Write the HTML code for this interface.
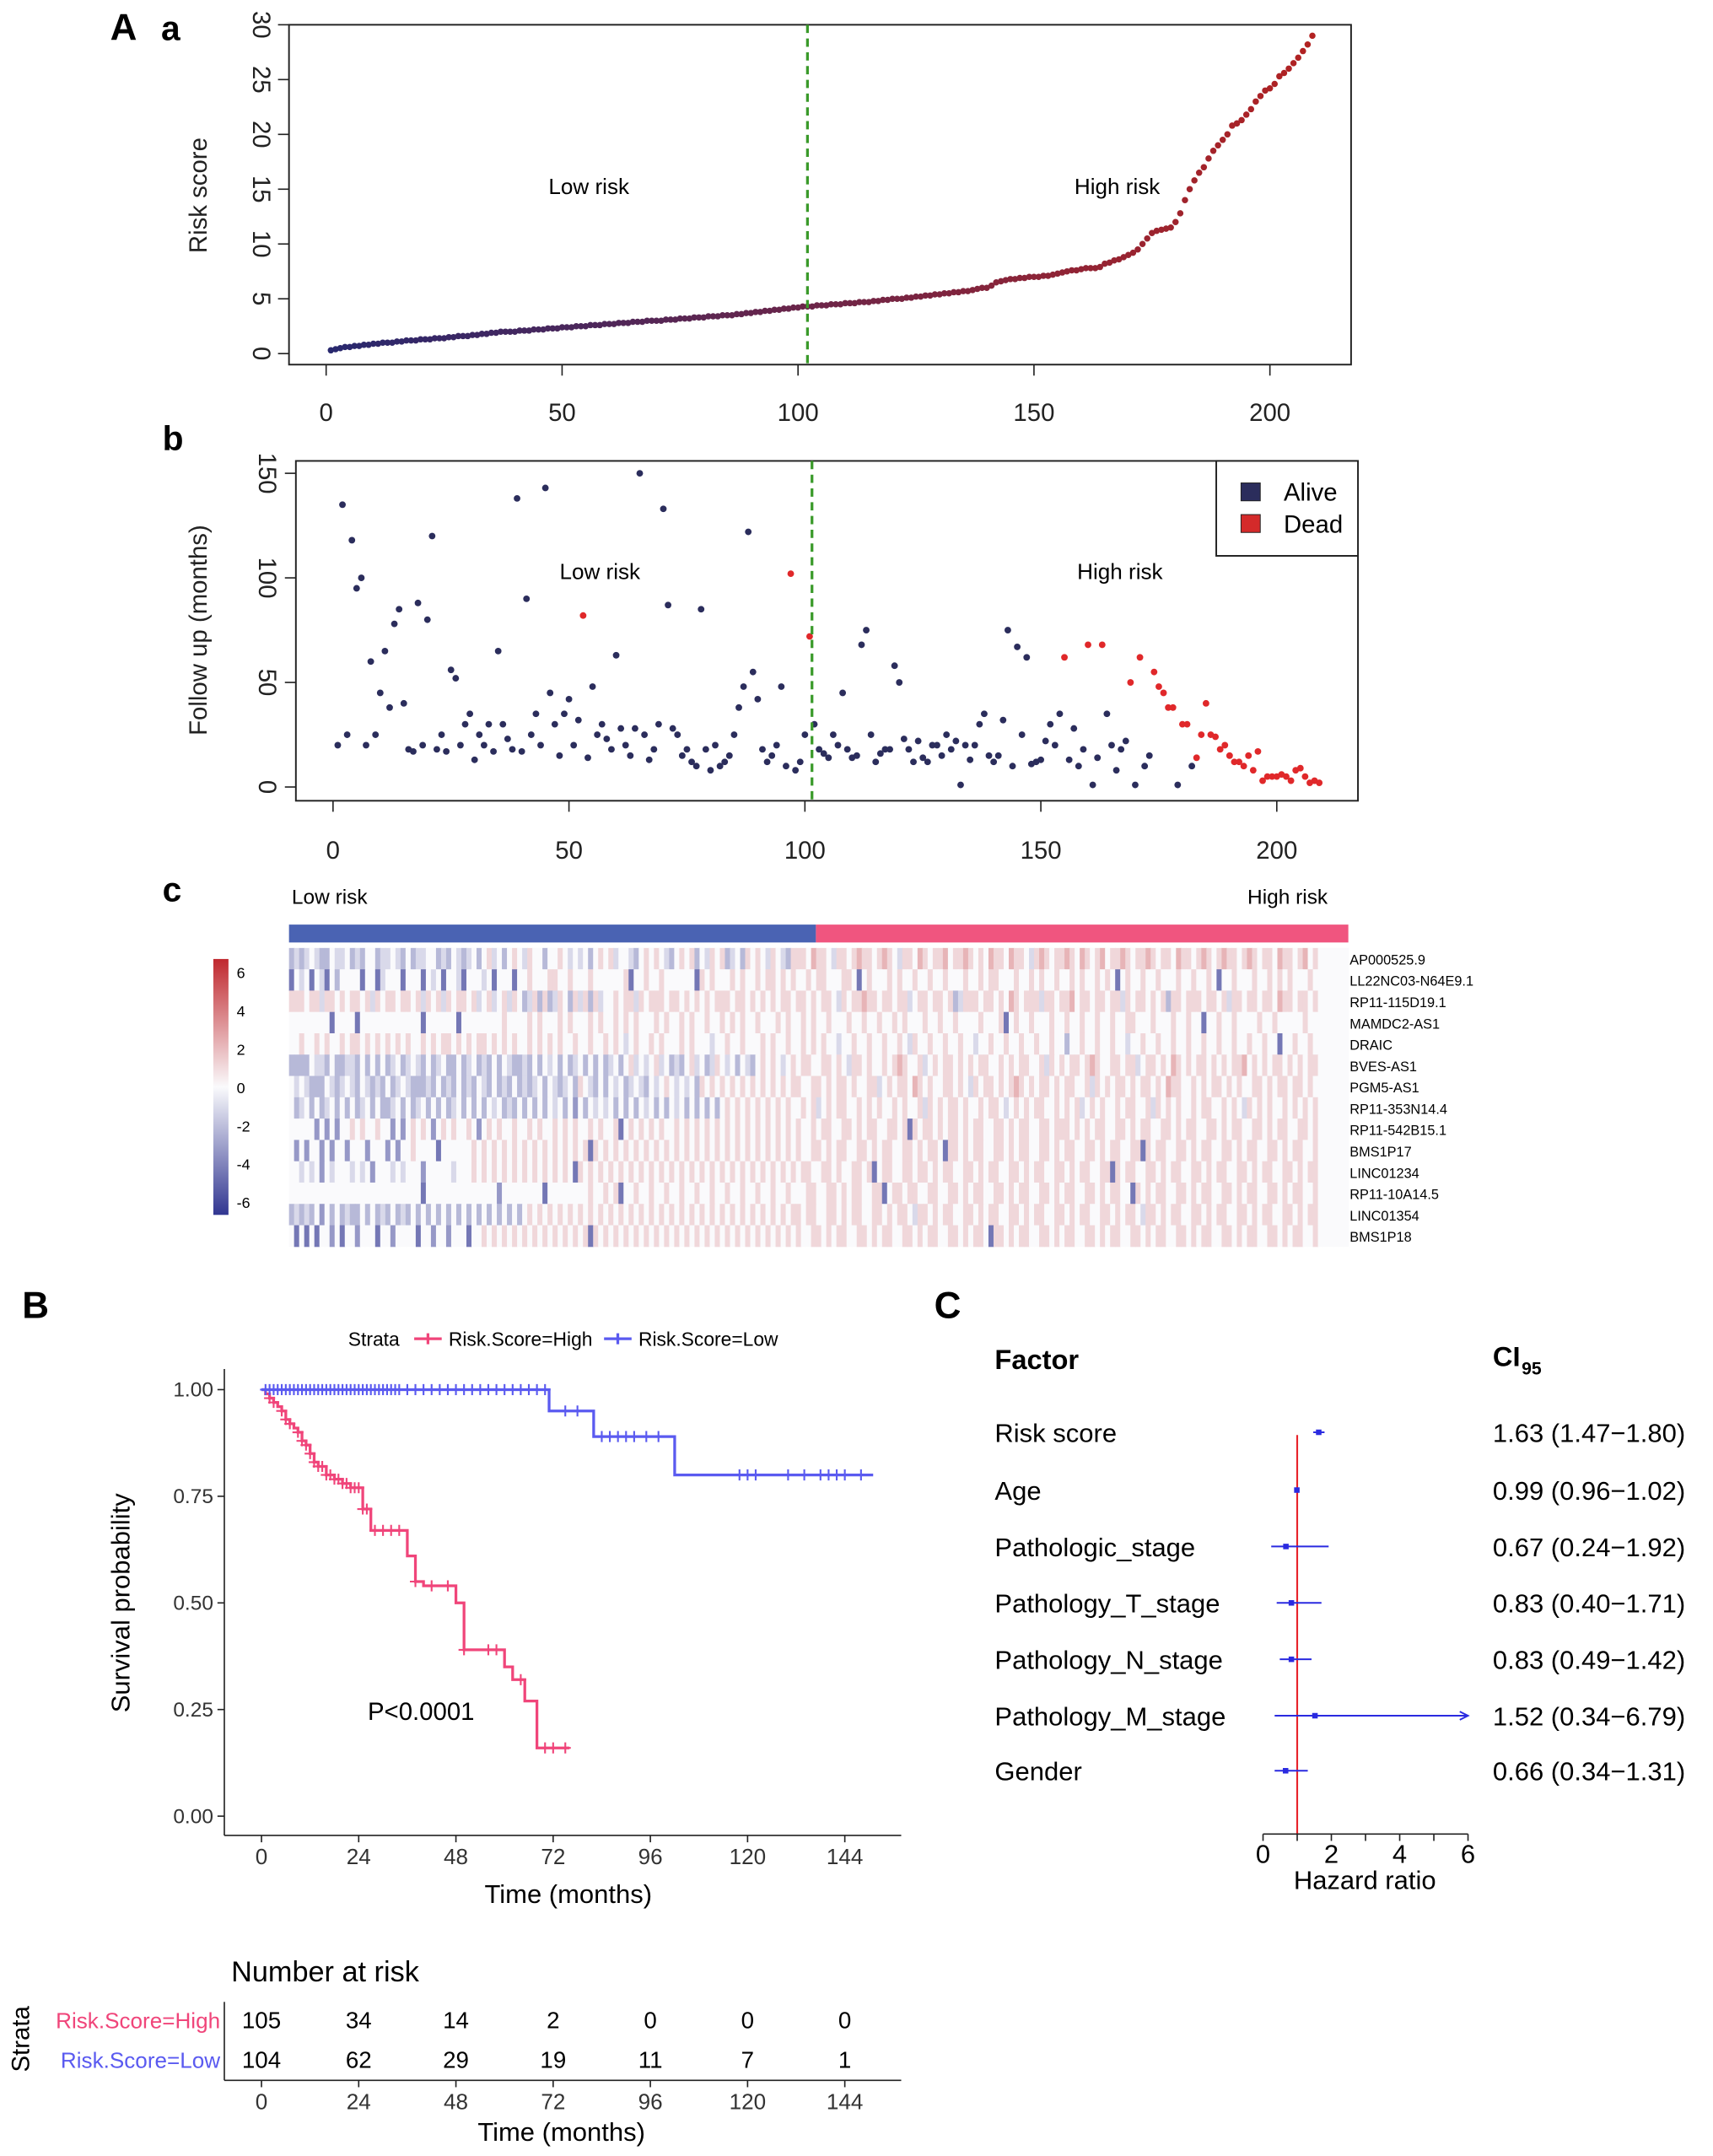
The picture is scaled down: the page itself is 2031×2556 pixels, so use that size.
<!DOCTYPE html>
<html><head><meta charset="utf-8"><style>
html,body{margin:0;padding:0;background:#fff}
svg{display:block;font-family:"Liberation Sans",Arial,sans-serif}
</style></head><body>
<svg id="S" width="2031" height="2556" viewBox="0 0 1245 1567" xmlns="http://www.w3.org/2000/svg">
<rect width="1245" height="1567" fill="#fff"/>
<g id="gA"></g>
<g id="gB"></g>
<g id="gC"></g>
<g id="gK"></g>
<g id="gF"></g>
</svg>
<script>
// ---------- data ----------
const riskScores=[0.3,0.4,0.5,0.6,0.6,0.7,0.7,0.8,0.8,0.9,0.9,1.0,1.0,1.0,1.1,1.1,1.2,1.2,1.2,1.3,1.3,1.3,1.4,1.4,1.4,1.5,1.5,1.6,1.6,1.6,1.7,1.7,1.8,1.8,1.9,1.9,2.0,2.0,2.0,2.0,2.1,2.1,2.1,2.2,2.2,2.2,2.3,2.3,2.3,2.4,2.4,2.4,2.5,2.5,2.5,2.6,2.6,2.6,2.7,2.7,2.7,2.8,2.8,2.8,2.9,2.9,2.9,3.0,3.0,3.0,3.0,3.1,3.1,3.1,3.2,3.2,3.2,3.3,3.3,3.3,3.4,3.4,3.4,3.5,3.5,3.5,3.6,3.6,3.7,3.7,3.8,3.8,3.9,3.9,4.0,4.0,4.1,4.1,4.2,4.2,4.3,4.3,4.3,4.4,4.4,4.4,4.5,4.5,4.5,4.6,4.6,4.6,4.7,4.7,4.7,4.8,4.8,4.9,4.9,5.0,5.0,5.0,5.1,5.1,5.2,5.2,5.3,5.3,5.4,5.4,5.5,5.5,5.6,5.6,5.7,5.7,5.8,5.9,6.0,6.0,6.2,6.5,6.6,6.7,6.8,6.8,6.9,6.9,7.0,7.0,7.0,7.1,7.1,7.2,7.3,7.4,7.5,7.6,7.6,7.7,7.8,7.8,7.8,7.9,8.2,8.3,8.5,8.6,8.8,9.0,9.2,9.5,10.0,10.5,11.0,11.2,11.3,11.4,11.5,12.0,12.8,14.0,15.0,15.8,16.5,17.0,17.8,18.5,19.0,19.5,20.0,20.8,21.0,21.3,21.8,22.3,23.0,23.5,24.0,24.2,24.6,25.3,25.6,26.0,26.5,27.0,27.6,28.2,29.0];
const followUp=[20,135,25,118,95,100,20,60,25,45,65,38,78,85,40,18,17,88,20,80,120,18,25,17,56,52,20,30,35,13,25,20,30,17,65,30,23,18,138,17,90,25,35,20,143,45,30,15,35,42,20,32,82,14,48,25,30,23,18,63,28,20,15,28,150,25,13,18,30,133,87,28,25,15,18,12,10,85,18,8,20,10,12,15,25,38,48,122,55,42,18,12,15,20,48,10,102,8,12,25,72,30,18,16,14,25,20,45,18,14,15,68,75,25,12,16,18,18,58,50,23,18,12,22,14,12,20,20,15,25,18,22,1,20,13,20,30,35,15,12,15,32,75,10,67,25,62,11,12,13,22,30,20,35,62,13,28,10,18,68,1,14,68,35,20,8,18,22,50,1,62,10,15,55,48,45,38,38,1,30,30,10,14,25,40,25,24,18,20,15,12,12,10,15,8,17,3,5,5,5,6,5,3,8,9,5,2,3,2];
const deadIdx=[53,97,101,155,160,163,169,171,174,175,176,177,178,180,181,183,184,185,186,187,188,189,190,191,192,193,194,195,196,197,198,199,200,201,202,203,204,205,206,207,208,209];
const geneNames=["AP000525.9","LL22NC03-N64E9.1","RP11-115D19.1","MAMDC2-AS1","DRAIC","BVES-AS1","PGM5-AS1","RP11-353N14.4","RP11-542B15.1","BMS1P17","LINC01234","RP11-10A14.5","LINC01354","BMS1P18"];
const heatRows=[
"3434543354453435534454353445534354345356453565465535565454535656455435656543565635465634536565465436"+"6657665466567665676546657656675667656576657665467656676576567566765667656657665676567665676566576656756",
"1545154153555515514555155515451554155545155515565556655655565555556155655655555516565556565565665656"+"5565665556651565556565565565565556556566555655656556556565565651565565565556556556515565556556565655565",
"6665664665656656465665665646564656656456456465346363465364636455656646566656656565656665665656565665"+"6656566546566766566566456656656346665665657656664665667566566566465665656366566656656466566566576656656",
"5555555515555155555555555515555551555555556555565655565655565655656565556565565655655656565565556565"+"5656556555655655655656555655655655556555615655655565565565565565566555655565565515565565555655655555655",
"5565565655656656565656565565656656565665656565565656565565565565654565565655565655545565565556565565"+"5656565545565565565565465565565565545565565565565565535565565565545565565565565565565565565565515565565",
"3333544353344353535345345435345335345343535433435354535345353534535645456453435645346545354356565456"+"5665566565466565565676556456566565656655656566556465656656765566566456656576565665656566756565665656566",
"5454333543454354343534543334353435343543534353434535434536543535453454354565454536565656565656565656"+"6556656566565566456566576565566565465665656765656656566556465656656566565766556565665656556656566566565",
"5345353453535345353345353453535345353535453435353535453525354545353535453535453535353565656565656565"+"5656456566556565655656556465656656556566545656566556565645656556566556465656556566556565465656556565656",
"5555525252556565565525256565256565565256565565565655656565565655615656565655656565656565656565656565"+"6556566556656566556656165665656656566556656566556656665656566556656566556656566556656566556656566556656",
"5252552525525552555252556555515555556565656565656565656565616565656565656565656565656565656565656565"+"6556656566556656566556656566516656566556656566556656566556656566556616566556656566556656566556656566556",
"5545452545554545255545455525555545556565656565656565656516565656565656565656565656565656565656565656"+"5665566565566561566556656656566556656566556656566556656566556616566556656566556656566556656566556656566",
"5555555555555555555555555515555555555555525555555515555555565565615565565565565565565565565565565565"+"5566556656566556615665665566556656566556656566556656566556656566551656566556656566556656566556656566556",
"3434352535343353534353435353535353535353535353565656565656565656565656565656565656565656565656565656"+"6566556656566556656566546656566556656566556656566556656566556656566546656566556656566556656566556656566",
"5151515525155255515525555155255255515565656565656565656565616565656565656565656565656565656565656565"+"6556656566556656566556656566556656566516656566556656566556656566556656566556656566556656566556656566556"
];
const kmHighT=[0,1,2,3,4,5,6,7,8,9,10,11,12,13,14,16,18,20,22,25,27,36,38,40,48,50,60,62,65,68,76];
const kmHighS=[1,0.99,0.98,0.97,0.96,0.95,0.93,0.92,0.91,0.90,0.88,0.87,0.85,0.83,0.82,0.80,0.79,0.78,0.77,0.72,0.67,0.61,0.55,0.54,0.50,0.39,0.35,0.32,0.27,0.16,0.16];
const kmHighCens=[2,3,5,6,7,9,10,11,12,13,14,15,16,17,18,19,20,21,22,23,24,25,26,28,30,32,34,38,42,46,50,56,58,64,70,72,75];
const kmLowT=[0,71,82,102,151];
const kmLowS=[1,0.95,0.89,0.80,0.80];
const kmLowCens=[1,2,3,4,5,6,7,8,9,10,11,12,13,14,15,16,17,18,19,20,21,22,23,24,25,26,27,28,29,30,31,32,33,34,36,38,40,42,44,46,48,50,52,54,56,58,60,62,64,66,68,70,75,78,84,86,88,90,92,95,98,118,120,122,130,134,138,140,142,144,148];
const xTicksKM=[0,24,48,72,96,120,144];
const atRiskHigh=[105,34,14,2,0,0,0];
const atRiskLow=[104,62,29,19,11,7,1];
const factors=["Risk score","Age","Pathologic_stage","Pathology_T_stage","Pathology_N_stage","Pathology_M_stage","Gender"];
const hr=[1.63,0.99,0.67,0.83,0.83,1.52,0.66];
const ciLo=[1.47,0.96,0.24,0.40,0.49,0.34,0.34];
const ciHi=[1.80,1.02,1.92,1.71,1.42,6.79,1.31];

// ---------- helpers ----------
const NS="http://www.w3.org/2000/svg";
function mk(par,tag,at,txt){const e=document.createElementNS(NS,tag);for(const k in at)e.setAttribute(k,at[k]);if(txt!==undefined)e.textContent=txt;par.appendChild(e);return e;}
function lerpCol(c1,c2,t){return 'rgb('+c1.map((v,i)=>Math.round(v+(c2[i]-v)*t)).join(',')+')';}
const S=document.getElementById('S');
let e;
e=mk(S,'text',{x:80,y:29,'font-size':27,'font-weight':'bold'},'A');
e=mk(S,'text',{x:117,y:29,'font-size':25,'font-weight':'bold'},'a');
e=mk(S,'text',{x:118,y:327,'font-size':25,'font-weight':'bold'},'b');
e=mk(S,'text',{x:118,y:655,'font-size':25,'font-weight':'bold'},'c');
e=mk(S,'text',{x:16,y:958,'font-size':27,'font-weight':'bold'},'B');
e=mk(S,'text',{x:679,y:958,'font-size':27,'font-weight':'bold'},'C');

// ---------- panel a ----------
(function(){
const g=document.getElementById('gA');
const xs=v=>237+v*(923-237)/200, ys=v=>257-v*(257-18)/30;
e=mk(g,'rect',{x:210,y:18,width:772,height:247,fill:'none',stroke:'#222','stroke-width':1.2});
[0,50,100,150,200].forEach(t=>{mk(g,'line',{x1:xs(t),x2:xs(t),y1:265,y2:273,stroke:'#222'});e=mk(g,'text',{x:xs(t),y:306,'font-size':18,'text-anchor':'middle',fill:'#222'},t);});
[0,5,10,15,20,25,30].forEach(t=>{mk(g,'line',{x1:202,x2:210,y1:ys(t),y2:ys(t),stroke:'#222'});e=mk(g,'text',{x:0,y:0,'font-size':18,'text-anchor':'middle',fill:'#222',transform:`translate(184,${ys(t)}) rotate(90)`},t);});
e=mk(g,'text',{x:0,y:0,'font-size':18,'text-anchor':'middle',fill:'#222',transform:'translate(150,142) rotate(-90)'},'Risk score');
const n=riskScores.length;
riskScores.forEach((v,i)=>{const t=i/(n-1);e=mk(g,'circle',{cx:xs(i+1),cy:ys(v),r:2.3,fill:lerpCol([40,40,110],[178,34,34],t)});});
e=mk(g,'line',{x1:xs(102),x2:xs(102),y1:18,y2:265,stroke:'#3a9a2a','stroke-width':2,'stroke-dasharray':'6,4'});
e=mk(g,'text',{x:428,y:141,'font-size':16,'text-anchor':'middle'},'Low risk');
e=mk(g,'text',{x:812,y:141,'font-size':16,'text-anchor':'middle'},'High risk');
})();

// ---------- panel b ----------
(function(){
const g=document.getElementById('gB');
const xs=v=>242+v*(928-242)/200, ys=v=>572-v*(572-344)/150;
e=mk(g,'rect',{x:215,y:335,width:772,height:247,fill:'none',stroke:'#222','stroke-width':1.2});
[0,50,100,150,200].forEach(t=>{mk(g,'line',{x1:xs(t),x2:xs(t),y1:582,y2:590,stroke:'#222'});e=mk(g,'text',{x:xs(t),y:624,'font-size':18,'text-anchor':'middle',fill:'#222'},t);});
[0,50,100,150].forEach(t=>{mk(g,'line',{x1:207,x2:215,y1:ys(t),y2:ys(t),stroke:'#222'});e=mk(g,'text',{x:0,y:0,'font-size':18,'text-anchor':'middle',fill:'#222',transform:`translate(188,${ys(t)}) rotate(90)`},t);});
e=mk(g,'text',{x:0,y:0,'font-size':18,'text-anchor':'middle',fill:'#222',transform:'translate(150,458) rotate(-90)'},'Follow up (months)');
followUp.forEach((v,i)=>{const dead=deadIdx.includes(i+1);e=mk(g,'circle',{cx:xs(i+1),cy:ys(v),r:2.4,fill:dead?'#e0282a':'#2b2d5c'});});
e=mk(g,'line',{x1:xs(101.5),x2:xs(101.5),y1:335,y2:582,stroke:'#3a9a2a','stroke-width':2,'stroke-dasharray':'6,4'});
e=mk(g,'text',{x:436,y:421,'font-size':16,'text-anchor':'middle'},'Low risk');
e=mk(g,'text',{x:814,y:421,'font-size':16,'text-anchor':'middle'},'High risk');
const lg=mk(g,'g',{});
mk(lg,'rect',{x:884,y:335,width:103,height:69,fill:'#fff',stroke:'#222','stroke-width':1.2});
mk(lg,'rect',{x:902,y:351,width:14,height:13,fill:'#2b2d5c',stroke:'#222','stroke-width':0.6});
e=mk(lg,'text',{x:933,y:364,'font-size':18},'Alive');
mk(lg,'rect',{x:902,y:374,width:14,height:13,fill:'#d42a2a',stroke:'#222','stroke-width':0.6});
e=mk(lg,'text',{x:933,y:387,'font-size':18},'Dead');
})();

// ---------- panel c heatmap ----------
(function(){
const g=document.getElementById('gC');
const X0=210,X1=980,Y0=689,RH=15.5,n=209,cw=(X1-X0)/n;
e=mk(g,'rect',{x:X0,y:672,width:(593-X0),height:13,fill:'#4a63b3'});
e=mk(g,'rect',{x:593,y:672,width:X1-593,height:13,fill:'#f0557f'});
e=mk(g,'text',{x:212,y:657,'font-size':15},'Low risk');
e=mk(g,'text',{x:965,y:657,'font-size':15,'text-anchor':'end'},'High risk');
const neg=[49,54,145],pos=[192,40,46],wh=[250,250,252];
function col(v){const t=Math.max(-1,Math.min(1,v/6));return t<0?lerpCol(wh,neg,-t):lerpCol(wh,pos,t);}
heatRows.forEach((s,r)=>{
  for(let i=0;i<n;i++){const d=+(s[i]||'5');const v=(d-5)*1.0;
    e=mk(g,'rect',{x:X0+i*cw,y:Y0+r*RH,width:cw+0.4,height:RH+0.3,fill:col(v)});
    }
  e=mk(g,'text',{x:981,y:Y0+r*RH+12,'font-size':10},geneNames[r]);
});
const defs=mk(g,'defs',{});const lgd=mk(defs,'linearGradient',{id:'cb',x1:0,y1:0,x2:0,y2:1});
mk(lgd,'stop',{offset:'0%','stop-color':'#c0282e'});mk(lgd,'stop',{offset:'50%','stop-color':'#fafafc'});mk(lgd,'stop',{offset:'100%','stop-color':'#313691'});
e=mk(g,'rect',{x:155,y:697,width:11,height:186,fill:'url(#cb)'});
[6,4,2,0,-2,-4,-6].forEach(t=>{e=mk(g,'text',{x:172,y:711+(6-t)*(873-706)/12,'font-size':11},t);});
})();

// ---------- panel B KM ----------
(function(){
const g=document.getElementById('gK');
const xs=v=>190+v*(614-190)/144, ys=v=>1320-v*(1320-1010);
const col1='#f0457a',col2='#5a5af0';
mk(g,'line',{x1:163,x2:163,y1:995,y2:1334,stroke:'#222'});
mk(g,'line',{x1:163,x2:655,y1:1334,y2:1334,stroke:'#222'});
xTicksKM.forEach(t=>{mk(g,'line',{x1:xs(t),x2:xs(t),y1:1334,y2:1339,stroke:'#222'});e=mk(g,'text',{x:xs(t),y:1355,'font-size':16,'text-anchor':'middle',fill:'#333'},t);});
[0,0.25,0.5,0.75,1].forEach(t=>{mk(g,'line',{x1:158,x2:163,y1:ys(t),y2:ys(t),stroke:'#222'});e=mk(g,'text',{x:155,y:ys(t)+5,'font-size':15,'text-anchor':'end',fill:'#333'},t.toFixed(2));});
e=mk(g,'text',{x:413,y:1383,'font-size':19,'text-anchor':'middle'},'Time (months)');
e=mk(g,'text',{x:0,y:0,'font-size':19,'text-anchor':'middle',transform:'translate(94,1165) rotate(-90)'},'Survival probability');
function step(T,Sv){let d=`M${xs(T[0])},${ys(Sv[0])}`;for(let i=1;i<T.length;i++){d+=`H${xs(T[i])}V${ys(Sv[i])}`;}return d;}
function sAt(T,Sv,t){let s=Sv[0];for(let i=0;i<T.length;i++)if(T[i]<=t)s=Sv[i];return s;}
e=mk(g,'path',{d:step(kmHighT,kmHighS),fill:'none',stroke:col1,'stroke-width':2});
e=mk(g,'path',{d:step(kmLowT,kmLowS),fill:'none',stroke:col2,'stroke-width':2});
function cens(T,Sv,C,c,nm){C.forEach(t=>{const x=xs(t),y=ys(sAt(T,Sv,t));e=mk(g,'path',{d:`M${x-4},${y}H${x+4}M${x},${y-4}V${y+4}`,stroke:c,'stroke-width':1.3});});}
cens(kmHighT,kmHighS,kmHighCens,col1,'censor-mark-high');cens(kmLowT,kmLowS,kmLowCens,col2,'censor-mark-low');
e=mk(g,'text',{x:306,y:1250,'font-size':18,'text-anchor':'middle'},'P<0.0001');
const lg=mk(g,'g',{});
mk(lg,'text',{x:253,y:978,'font-size':14},'Strata');
mk(lg,'path',{d:'M301,973H321M311,969V977',stroke:col1,'stroke-width':2});
e=mk(lg,'text',{x:326,y:978,'font-size':14},'Risk.Score=High');
mk(lg,'path',{d:'M439,973H459M449,969V977',stroke:col2,'stroke-width':2});
e=mk(lg,'text',{x:464,y:978,'font-size':14},'Risk.Score=Low');
e=mk(g,'text',{x:168,y:1440,'font-size':21},'Number at risk');
mk(g,'line',{x1:163,x2:163,y1:1455,y2:1512,stroke:'#222'});
mk(g,'line',{x1:163,x2:655,y1:1512,y2:1512,stroke:'#222'});
e=mk(g,'text',{x:160,y:1474,'font-size':16,'text-anchor':'end',fill:col1},'Risk.Score=High');
e=mk(g,'text',{x:160,y:1503,'font-size':16,'text-anchor':'end',fill:col2},'Risk.Score=Low');
e=mk(g,'text',{x:0,y:0,'font-size':18,'text-anchor':'middle',transform:'translate(21,1482) rotate(-90)'},'Strata');
xTicksKM.forEach((t,i)=>{
 e=mk(g,'text',{x:xs(t),y:1474,'font-size':17,'text-anchor':'middle'},atRiskHigh[i]);
 e=mk(g,'text',{x:xs(t),y:1503,'font-size':17,'text-anchor':'middle'},atRiskLow[i]);
 mk(g,'line',{x1:xs(t),x2:xs(t),y1:1512,y2:1517,stroke:'#222'});
 e=mk(g,'text',{x:xs(t),y:1533,'font-size':16,'text-anchor':'middle',fill:'#333'},t);
});
e=mk(g,'text',{x:408,y:1556,'font-size':19,'text-anchor':'middle'},'Time (months)');
})();

// ---------- panel C forest ----------
(function(){
const g=document.getElementById('gF');
const xs=v=>918+v*(1067-918)/6;
const rowY=[1041,1083,1124,1165,1206,1247,1287];
e=mk(g,'text',{x:723,y:995,'font-size':20,'font-weight':'bold'},'Factor');
e=mk(g,'text',{x:1085,y:993,'font-size':20,'font-weight':'bold'},'CI');
mk(g,'text',{x:1106,y:999,'font-size':13,'font-weight':'bold'},'95');
e=mk(g,'line',{x1:xs(1),x2:xs(1),y1:1043,y2:1333,stroke:'#e8232a','stroke-width':1.3});
factors.forEach((f,i)=>{
 const y=rowY[i];
 e=mk(g,'text',{x:723,y:y+7,'font-size':19},f);
 e=mk(g,'text',{x:1085,y:y+7,'font-size':19},`${hr[i].toFixed(2)} (${ciLo[i].toFixed(2)}\u2212${ciHi[i].toFixed(2)})`);
 const hi=Math.min(ciHi[i],6);
 e=mk(g,'line',{x1:xs(ciLo[i]),x2:xs(hi),y1:y,y2:y,stroke:'#2a2ae0','stroke-width':1.2});
 if(ciHi[i]>6)mk(g,'path',{d:`M${xs(6)-6},${y-3}L${xs(6)},${y}L${xs(6)-6},${y+3}`,stroke:'#2a2ae0',fill:'none','stroke-width':1.2});
 e=mk(g,'rect',{x:xs(hr[i])-2,y:y-2,width:4,height:4,fill:'#2a2ae0'});
});
mk(g,'line',{x1:xs(0),x2:xs(6),y1:1333,y2:1333,stroke:'#222'});
[0,1,2,3,4,5,6].forEach(t=>{mk(g,'line',{x1:xs(t),x2:xs(t),y1:1333,y2:1338,stroke:'#222'});});
[0,2,4,6].forEach(t=>{e=mk(g,'text',{x:xs(t),y:1354,'font-size':19,'text-anchor':'middle'},t);});
e=mk(g,'text',{x:992,y:1373,'font-size':19,'text-anchor':'middle'},'Hazard ratio');
})();
</script>
</body></html>
